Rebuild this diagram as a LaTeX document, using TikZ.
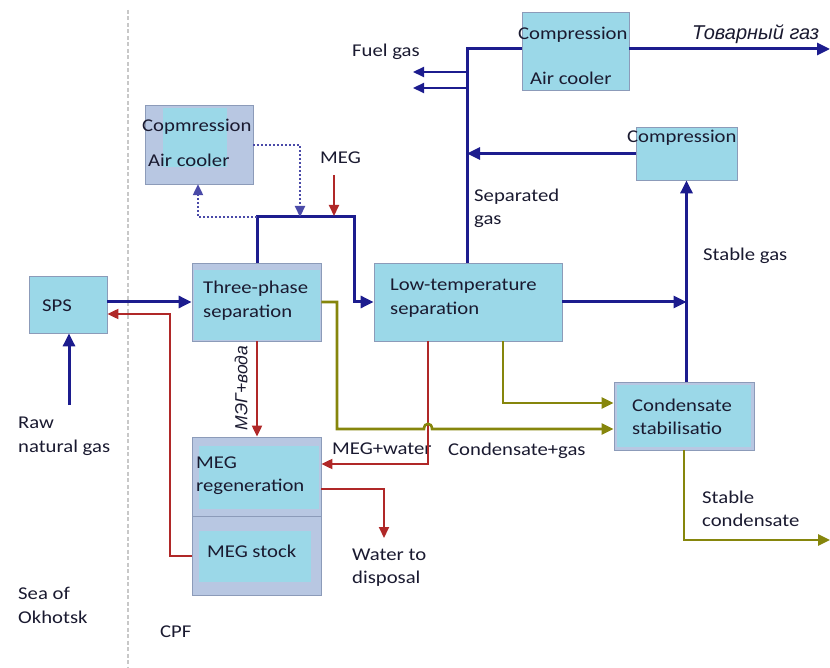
\documentclass[tikz,border=0pt]{standalone}
\usepackage{fontspec}
\setmainfont{Carlito}[FakeStretch=1.15]
\newfontfamily\rusfont{Liberation Sans}
\usetikzlibrary{arrows.meta}
\definecolor{lblue}{HTML}{9BD8E8}
\definecolor{lav}{HTML}{B8C7E2}
\definecolor{bgray}{HTML}{8C9BB9}
\definecolor{navy}{HTML}{1C1C8E}
\definecolor{dotblue}{HTML}{4A4AA8}
\definecolor{mred}{HTML}{B02828}
\definecolor{olive}{HTML}{86860C}
\definecolor{txt}{HTML}{1A1A30}
\definecolor{sep}{HTML}{C8C8C8}
\tikzset{
  box/.style={draw=bgray, line width=0.8pt, fill=lblue, inner sep=0pt},
  lavbox/.style={draw=bgray, line width=0.8pt, fill=lav, inner sep=0pt},
  lbl/.style={anchor=base west, inner sep=0pt, text=txt, font=\fontsize{18}{22}\selectfont},
  bluearrow/.style={draw=navy, line width=3pt, -{Triangle[length=13pt,width=12pt]}},
  blueline/.style={draw=navy, line width=3pt},
  thinblue/.style={draw=navy, line width=2.2pt, -{Triangle[length=11pt,width=10pt]}},
  dotarrow/.style={draw=dotblue, line width=2.2pt, dash pattern=on 2pt off 2pt, -{Triangle[length=11pt,width=10pt]}},
  redarrow/.style={draw=mred, line width=2pt, -{Triangle[length=11pt,width=10pt]}},
  olivearrow/.style={draw=olive, line width=2.6pt, -{Triangle[length=12pt,width=11pt]}},
}
\begin{document}
\begin{tikzpicture}[x=1pt, y=-1pt]
\useasboundingbox (0,0) rectangle (830,668);
% separator
\draw[sep, line width=1.6pt, dash pattern=on 4pt off 2.5pt] (128,10) -- (128,668);

% boxes
\node[box, minimum width=78pt, minimum height=57pt] (sps) at (68,304.5) {};
\node[lavbox, minimum width=129pt, minimum height=78pt] (tps) at (256.5,302) {};
\fill[lblue] (194,270) rectangle (320,340);
\node[box, minimum width=188pt, minimum height=78pt] (lts) at (468,302) {};
\node[lavbox, minimum width=108pt, minimum height=79pt] (comp1) at (199,144.5) {};
\fill[lblue] (163,108) rectangle (227,167);
\node[box, minimum width=107pt, minimum height=78pt] (comp2) at (575.5,51) {};
\node[box, minimum width=101pt, minimum height=53pt] (comp3) at (686.5,153.5) {};
\node[lavbox, minimum width=140pt, minimum height=68pt] (cst) at (684,416) {};
\fill[lblue] (617,385) rectangle (751,447);
\node[lavbox, minimum width=129pt, minimum height=158pt] (meg) at (256.5,516) {};
\draw[bgray, line width=0.8pt] (192,516) -- (321,516);
\fill[lblue] (199,446) rectangle (319,509);
\fill[lblue] (199,531) rectangle (311,582);

% labels
\node[lbl] (tfuel) at (352,57) {Fuel gas};
\node[lbl] (tc2a) at (518,40) {Compression};
\node[lbl] (tc2b) at (530,85) {Air cooler};
\node[anchor=base west, inner sep=0pt, text=txt, font=\rusfont\itshape\fontsize{20}{24}\selectfont] (ttov) at (692,40) {Товарный газ};
\node[lbl] (tc1a) at (142,132) {Copmression};
\node[lbl] (tc1b) at (148,167) {Air cooler};
\node[lbl] (tmeg) at (320,164) {MEG};
\node[lbl] (tsps) at (42,312) {SPS};
\node[lbl] (traw) at (18,428) {Raw};
\node[lbl] (traw2) at (18,452) {natural gas};
\node[lbl] (ttps1) at (203,294) {Three-phase};
\node[lbl] (ttps2) at (203,318) {separation};
\node[lbl] (tlts1) at (390,291) {Low-temperature};
\node[lbl] (tlts2) at (390,315) {separation};
\node[lbl] (tsg1) at (474,202) {Separated};
\node[lbl] (tsg2) at (474,225) {gas};
\node[lbl] (tc3) at (627,143) {Compression};
\node[lbl] (tstg) at (703,261) {Stable gas};
\node[lbl] (tcs1) at (632,411) {Condensate};
\node[lbl] (tcs2) at (632,434) {stabilisatio};
\node[lbl] (tsc1) at (702,503) {Stable};
\node[lbl] (tsc2) at (702,526) {condensate};
\node[lbl] (tmr1) at (196,468) {MEG};
\node[lbl] (tmr2) at (196,491) {regeneration};
\node[lbl] (tms) at (207,557) {MEG stock};
\node[lbl] (tmw) at (332,454) {MEG+water};
\node[lbl] (tcg) at (448,455) {Condensate+gas};
\node[lbl] (twd1) at (352,560) {Water to};
\node[lbl] (twd2) at (352,583) {disposal};
\node[lbl] (tsea1) at (18,599) {Sea of};
\node[lbl] (tsea2) at (18,623) {Okhotsk};
\node[lbl] (tcpf) at (160,637) {CPF};
\node[rotate=90, inner sep=0pt, text=txt, font=\rusfont\itshape\fontsize{17.5}{20}\selectfont] (tmv) at (241,388) {МЭГ+вода};

% coordinates
\coordinate (topL) at (257,217);
\coordinate (topR) at (354,217);
\coordinate (sgTop) at (467,49);
\coordinate (outR) at (830,49);
\coordinate (scEnd) at (830,540);
\coordinate (rawStart) at (69,405);
\coordinate (wd) at (384,538);

% blue flows
\draw[bluearrow] (sps.east |- 0,302) -- (tps.west);
\draw[bluearrow] (rawStart) -- (rawStart |- sps.south);
\draw[bluearrow] (tps.north -| topL) -- (topL) -- (topR) -- (topR |- lts.west) -- (lts.west);
\draw[blueline] (lts.north -| sgTop) -- (sgTop) -- (sgTop -| comp2.west);
\draw[bluearrow] (comp2.east |- outR) -- (outR);
\draw[thinblue] (467,72) -- (413,72);
\draw[thinblue] (467,88) -- (413,88);
\draw[bluearrow] (comp3.west) -- (comp3.west -| sgTop);
\draw[bluearrow] (lts.east) -- (lts.east -| comp3.south);
\draw[bluearrow] (cst.north -| comp3.south) -- (comp3.south);
% dotted
\draw[dotarrow] (topL) -- (198,217) -- (198,184.2);
\draw[dotarrow] (comp1.east |- 0,145) -- (300,145) -- (300,217);
% red flows
\draw[redarrow] (334,175) -- (334,216);
\draw[redarrow] (meg.west |- 0,556) -- (170,556) -- (170,314) -- (sps.east |- 0,314);
\draw[redarrow] (tps.south -| topL) -- (topL |- meg.north);
\draw[redarrow] (lts.south -| 428,0) -- (428,464) -- (meg.east |- 0,464);
\draw[redarrow] (meg.east |- 0,489) -- (384,489) -- (wd);
% olive flows
\draw[olivearrow] (tps.east) -- (337,302) -- (337,429) -- (424,429) .. controls (424,422) and (432,422) .. (432,429) -- (cst.west |- 0,429);
\draw[olivearrow] (lts.south -| 503,0) -- (503,403) -- (cst.west |- 0,403);
\draw[olivearrow] (cst.south) -- (cst.south |- scEnd) -- (scEnd);
\end{tikzpicture}
\end{document}
